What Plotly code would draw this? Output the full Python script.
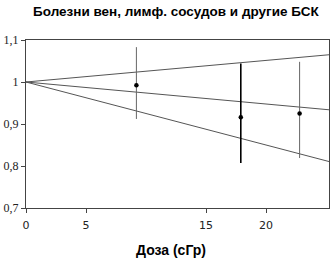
import plotly.graph_objects as go

# Data
dose = [9.2, 17.9, 22.8]
rr = [0.992, 0.916, 0.925]
ci_hi = [1.083, 1.044, 1.048]
ci_lo = [0.912, 0.807, 0.819]
slope_hi = 0.00257
slope_mid = -0.00262
slope_lo = -0.0075
x_line = [0, 25.3]
y_ticks = [0.7, 0.8, 0.9, 1.0, 1.1]
y_tick_labels = ["0,7", "0,8", "0,9", "1", "1,1"]
x_ticks = [0, 5, 15, 20]
x_tick_labels = ["0", "5", "15", "20"]

fig = go.Figure()
for s in (slope_hi, slope_mid, slope_lo):
    fig.add_trace(go.Scatter(x=x_line, y=[1 + s * x for x in x_line], mode="lines",
                             line=dict(color="#555555", width=1), showlegend=False, hoverinfo="skip"))

thin = [0, 2]
thick = [1]
for idx, col, w in ((thin, "#666666", 1), (thick, "#000000", 1.6)):
    fig.add_trace(go.Scatter(
        x=[dose[i] for i in idx], y=[rr[i] for i in idx], mode="markers",
        marker=dict(color="black", size=4.5),
        error_y=dict(type="data", symmetric=False,
                     array=[ci_hi[i] - rr[i] for i in idx],
                     arrayminus=[rr[i] - ci_lo[i] for i in idx],
                     color=col, thickness=w, width=0),
        showlegend=False))

fig.update_layout(
    width=330, height=261,
    margin=dict(l=26, r=1, t=40, b=53),
    paper_bgcolor="white", plot_bgcolor="white",
    title=dict(text="<b>Болезни вен, лимф. сосудов и другие БСК</b>",
               x=0.533, xanchor="center", y=0.955, yanchor="middle",
               font=dict(family="Liberation Sans, Arial", size=13.5, color="black")),
    xaxis=dict(range=[0, 25.25], tickvals=x_ticks, ticktext=x_tick_labels, automargin=False,
               showgrid=False, zeroline=False, showline=True, linecolor="#444444", mirror=True,
               ticks="outside", ticklen=4, tickcolor="#444444", ticklabelstandoff=3,
               tickfont=dict(family="DejaVu Sans", size=11, color="#222222")),
    yaxis=dict(range=[0.7, 1.1], tickvals=y_ticks, ticktext=y_tick_labels, automargin=False,
               showgrid=False, zeroline=False, showline=True, linecolor="#444444", mirror=True,
               ticks="outside", ticklen=4, tickcolor="#444444",
               tickfont=dict(family="Liberation Serif, Times New Roman", size=12, color="#222222")),
    annotations=[dict(text="<b>Доза (сГр)</b>", xref="paper", yref="paper",
                      x=(171 - 26) / 303, y=-(250 - 208) / 168, xanchor="center", yanchor="middle",
                      showarrow=False,
                      font=dict(family="Liberation Sans, Arial", size=14, color="black"))],
)
fig.write_html("out.html", config={"displayModeBar": False},
               post_script="document.body.style.margin='0';document.body.style.overflow='hidden';")
